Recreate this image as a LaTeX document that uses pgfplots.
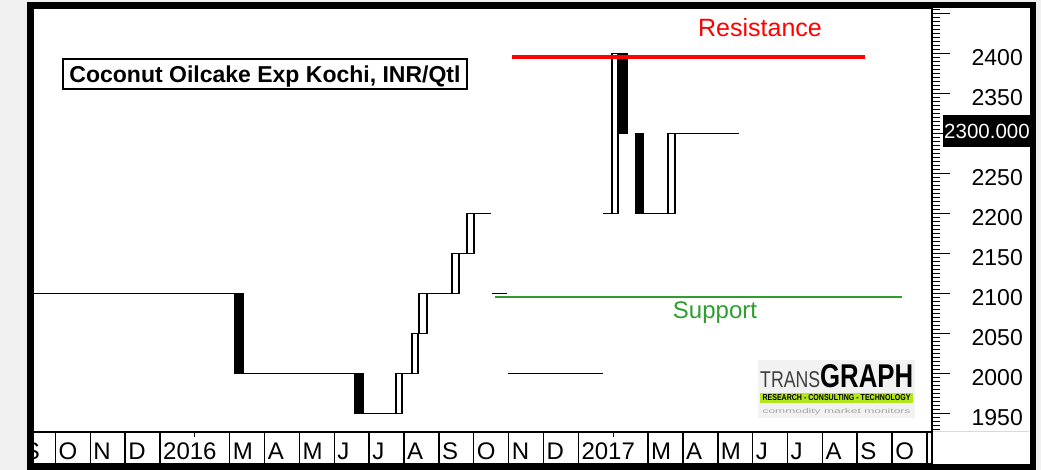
\documentclass[border=0pt]{standalone}
\usepackage{pgfplots}
\pgfplotsset{compat=1.18}
\usepackage{fontspec}
\setmainfont{Liberation Sans}
\usepackage{graphicx}
\definecolor{bggray}{HTML}{F0F0F0}
\definecolor{supgreen}{HTML}{2E9E2E}
\definecolor{resred}{HTML}{FF0000}
\definecolor{logogreen}{HTML}{B4E61E}
\tikzset{mlab/.style={anchor=base west, inner sep=0pt, xshift=3pt, font=\fontsize{24}{24}\selectfont}}
\begin{document}
\begin{tikzpicture}[x=1pt,y=1pt]
\useasboundingbox (0,0) rectangle (1041,470);
\fill[bggray] (0,0) rectangle (1041,470);
\fill[white] (29.5,2.5) rectangle (1032.5,464.5);
% ---------------- main price axis ----------------
\begin{axis}[
  at={(33pt,38pt)}, anchor=south west,
  scale only axis, width=899pt, height=424pt,
  xmin=-3.643, xmax=22.146,
  ymin=1926.9, ymax=2456.9,
  xtick=\empty,
  ytick={1950,2000,2050,2100,2150,2200,2250,2300,2350,2400,2450},
  yticklabels={1950,2000,2050,2100,2150,2200,2250,{},2350,2400,{}},
  minor ytick={1930,1935,...,2455},
  ytick pos=right, yticklabel pos=right,
  tick align=outside,
  major tick length=18pt, minor tick length=8pt,
  every tick/.style={black, line width=1.2pt},
  axis line style={black, line width=1.5pt},
  yticklabel style={font=\fontsize{23}{23}\selectfont, anchor=east, inner sep=0pt, xshift=73pt, yshift=-4pt},
  unbounded coords=jump,
]
% horizontal (unchanged-week) price segments
\addplot[black, line width=1.6pt] coordinates {
 (-3.7,2100) (2.151,2100) (2.2,nan)
 (2.381,2000) (5.594,2000) (5.7,nan)
 (5.823,1950) (6.770,1950) (6.8,nan)
 (6.942,2000) (7.229,2000) (7.3,nan)
 (7.659,2100) (8.376,2100) (8.4,nan)
 (8.577,2150) (8.807,2150) (8.9,nan)
 (9.007,2200) (9.495,2200) (9.5,nan)
 (9.524,2100) (9.954,2100) (9.96,nan)
 (9.98,2000) (12.708,2000) (12.71,nan)
 (12.708,2200) (12.966,2200) (12.97,nan)
 (13.855,2200) (14.573,2200) (14.6,nan)
 (14.773,2300) (16.609,2300)
};
% candles: down weeks (black)
\addplot[draw=black, fill=black, line width=1.3pt] coordinates {(2.151,2100) (2.381,2100) (2.381,2000) (2.151,2000)} --cycle;
\addplot[draw=black, fill=black, line width=1.3pt] coordinates {(5.594,2000) (5.823,2000) (5.823,1950) (5.594,1950)} --cycle;
\addplot[draw=black, fill=black, line width=1.3pt] coordinates {(13.138,2400) (13.397,2400) (13.397,2300) (13.138,2300)} --cycle;
\addplot[draw=black, fill=black, line width=1.3pt] coordinates {(13.655,2300) (13.855,2300) (13.855,2200) (13.655,2200)} --cycle;
% candles: up weeks (white)
\addplot[draw=black, fill=white, line width=1.3pt] coordinates {(6.770,1950) (6.942,1950) (6.942,2000) (6.770,2000)} --cycle;
\addplot[draw=black, fill=white, line width=1.3pt] coordinates {(7.229,2000) (7.401,2000) (7.401,2050) (7.229,2050)} --cycle;
\addplot[draw=black, fill=white, line width=1.3pt] coordinates {(7.430,2050) (7.659,2050) (7.659,2100) (7.430,2100)} --cycle;
\addplot[draw=black, fill=white, line width=1.3pt] coordinates {(8.376,2100) (8.577,2100) (8.577,2150) (8.376,2150)} --cycle;
\addplot[draw=black, fill=white, line width=1.3pt] coordinates {(8.807,2150) (9.007,2150) (9.007,2200) (8.807,2200)} --cycle;
\addplot[draw=black, fill=white, line width=1.3pt] coordinates {(12.966,2200) (13.138,2200) (13.138,2400) (12.966,2400)} --cycle;
\addplot[draw=black, fill=white, line width=1.3pt] coordinates {(14.573,2200) (14.773,2200) (14.773,2300) (14.573,2300)} --cycle;
% resistance and support
\addplot[resred, line width=4pt] coordinates {(10.098,2395.6) (20.224,2395.6)};
\addplot[supgreen, line width=2.8pt] coordinates {(9.610,2095.6) (21.285,2095.6)};
\coordinate (lastp) at (axis cs:22.146,2300);
\end{axis}
% ---------------- month label row ----------------
\begin{axis}[
  at={(33pt,6pt)}, anchor=south west,
  scale only axis, width=899pt, height=32pt,
  xmin=-3.643, xmax=22.146, ymin=0, ymax=1,
  ytick=\empty,
  xtick={1,13}, xticklabels={}, xtick pos=upper, tick align=inside,
  major tick length=5pt,
  every tick/.style={black, line width=1.2pt},
  extra x ticks={-3,-2,-1,0,2,3,4,5,6,7,8,9,10,11,12,14,15,16,17,18,19,20,21,22},
  extra x tick labels={},
  extra x tick style={grid=major, major tick length=0pt},
  grid style={black, line width=1.5pt},
  axis line style={black, line width=1.5pt},
]
\node[mlab] at (axis cs:-4,0.125) {S};
\node[mlab] at (axis cs:-3,0.125) {O};
\node[mlab] at (axis cs:-2,0.125) {N};
\node[mlab] at (axis cs:-1,0.125) {D};
\node[mlab] at (axis cs:0,0.125) {2016};
\node[mlab] at (axis cs:2,0.125) {M};
\node[mlab] at (axis cs:3,0.125) {A};
\node[mlab] at (axis cs:4,0.125) {M};
\node[mlab] at (axis cs:5,0.125) {J};
\node[mlab] at (axis cs:6,0.125) {J};
\node[mlab] at (axis cs:7,0.125) {A};
\node[mlab] at (axis cs:8,0.125) {S};
\node[mlab] at (axis cs:9,0.125) {O};
\node[mlab] at (axis cs:10,0.125) {N};
\node[mlab] at (axis cs:11,0.125) {D};
\node[mlab] at (axis cs:12,0.125) {2017};
\node[mlab] at (axis cs:14,0.125) {M};
\node[mlab] at (axis cs:15,0.125) {A};
\node[mlab] at (axis cs:16,0.125) {M};
\node[mlab] at (axis cs:17,0.125) {J};
\node[mlab] at (axis cs:18,0.125) {J};
\node[mlab] at (axis cs:19,0.125) {A};
\node[mlab] at (axis cs:20,0.125) {S};
\node[mlab] at (axis cs:21,0.125) {O};
\node[mlab] at (axis cs:22,0.125) {N};
\end{axis}
% ---------------- annotations ----------------
\draw[black!15, line width=1pt] (933,38) -- (1029,38);
\node[fill=black, text=white, anchor=west, inner xsep=1pt, inner ysep=0pt, minimum height=32pt,
      text height=14.7pt, text depth=0pt, font=\fontsize{20.5}{20.5}\selectfont]
      at ([xshift=11pt,yshift=2.5pt]lastp) {2300.000};
\node[draw=black, line width=1.3pt, minimum width=404pt, minimum height=30pt, inner sep=0pt,
      text height=16.5pt, text depth=0pt, font=\bfseries\fontsize{23}{23}\selectfont]
      at (265,396) {Coconut Oilcake Exp Kochi, INR/Qtl};
\node[text=resred, inner sep=0pt, text height=18pt, text depth=0pt, font=\fontsize{25}{25}\selectfont] at (760,442.5) {Resistance};
\node[text=supgreen, inner sep=0pt, text height=17pt, text depth=0pt, font=\fontsize{24}{24}\selectfont] at (715,160) {Support};
% logo
\fill[black!5] (758,52) rectangle (915,110);
\node[anchor=south west, inner sep=0pt] at (760,82) {\resizebox{60pt}{16pt}{\color{black!75}TRANS}};
\node[anchor=south west, inner sep=0pt] at (820,82) {\resizebox{93pt}{23pt}{\bfseries GRAPH}};
\fill[logogreen] (760,67) rectangle (913,77);
\node[inner sep=0pt] at (836.5,72) {\resizebox{148pt}{6pt}{\bfseries RESEARCH - CONSULTING - TECHNOLOGY}};
\node[inner sep=0pt] at (836.5,58.5) {\resizebox{148pt}{5pt}{\color{black!35}commodity market monitors}};
% outer frame
\draw[black, line width=6pt] (29.5,2.5) rectangle (1032.5,464.5);
\end{tikzpicture}
\end{document}
